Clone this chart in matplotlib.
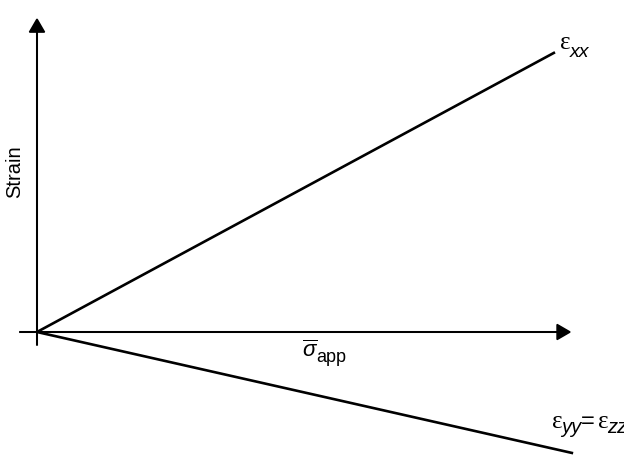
import matplotlib
matplotlib.use("Agg")
import matplotlib.pyplot as plt

# Data (schematic): applied stress vs strain
stress_xx = [0.0, 1.0]
strain_xx = [0.0, 0.54]
stress_yy = [0.0, 1.035]
strain_yy = [0.0, -0.234]

ylabel = "Strain"

plt.rcParams['font.family'] = ['Liberation Sans', 'DejaVu Sans']
plt.rcParams['mathtext.fontset'] = 'custom'
plt.rcParams['mathtext.rm'] = 'Liberation Sans'
plt.rcParams['mathtext.it'] = 'Liberation Sans:italic'
plt.rcParams['mathtext.bf'] = 'Liberation Sans:bold'

fig = plt.figure(figsize=(6.24, 4.62), dpi=100)
ax = fig.add_axes([0, 0, 1, 1])
ax.set_xlim(-37 / 518, (624 - 37) / 518)
ax.set_ylim((332 - 462) / 518, 332 / 518)
ax.axis('off')

# axes with arrows
ax.arrow(-0.033, 0, 1.062, 0, head_width=0.029, head_length=0.025,
         length_includes_head=True, fc='black', ec='black', lw=1.1)
ax.arrow(0, -0.025, 0, 0.629, head_width=0.029, head_length=0.025,
         length_includes_head=True, fc='black', ec='black', lw=1.1)

ax.plot(stress_xx, strain_xx, color='black', lw=1.9, solid_capstyle='butt')
ax.plot(stress_yy, strain_yy, color='black', lw=1.9, solid_capstyle='butt')

ax.text(-0.0425, 0.309, ylabel, rotation=90, ha='center', va='center', fontsize=14.5)

EPS = ['Liberation Serif', 'DejaVu Serif']


def piece(txt, anchor, off, size, italic=False, fam=None):
    kw = dict(xycoords='data', textcoords='offset pixels', ha='left',
              va='baseline', fontsize=size)
    if italic:
        kw['style'] = 'italic'
    if fam is not None:
        kw['family'] = fam
    ax.annotate(txt, xy=anchor, xytext=off, **kw)


# sigma_app label
a = (0.5116, -0.0483)
piece(r"$\overline{\sigma}$", a, (0, 0), 16)
piece("app", a, (14, -5), 13)

# eps_xx label
a = (1.0097, 0.5463)
piece("ε", a, (0, 0), 18, fam=EPS)
piece("xx", a, (10, -8), 14, italic=True)

# eps_yy = eps_zz label
a = (0.9942, -0.1853)
piece("ε", a, (0, 0), 18, fam=EPS)
piece("yy", a, (9, -5), 14.5, italic=True)
piece("=", a, (29, 0), 17)
piece("ε", a, (46, 0), 18, fam=EPS)
piece("zz", a, (55, -5), 14.5, italic=True)

fig.savefig("out.png", dpi=100)
